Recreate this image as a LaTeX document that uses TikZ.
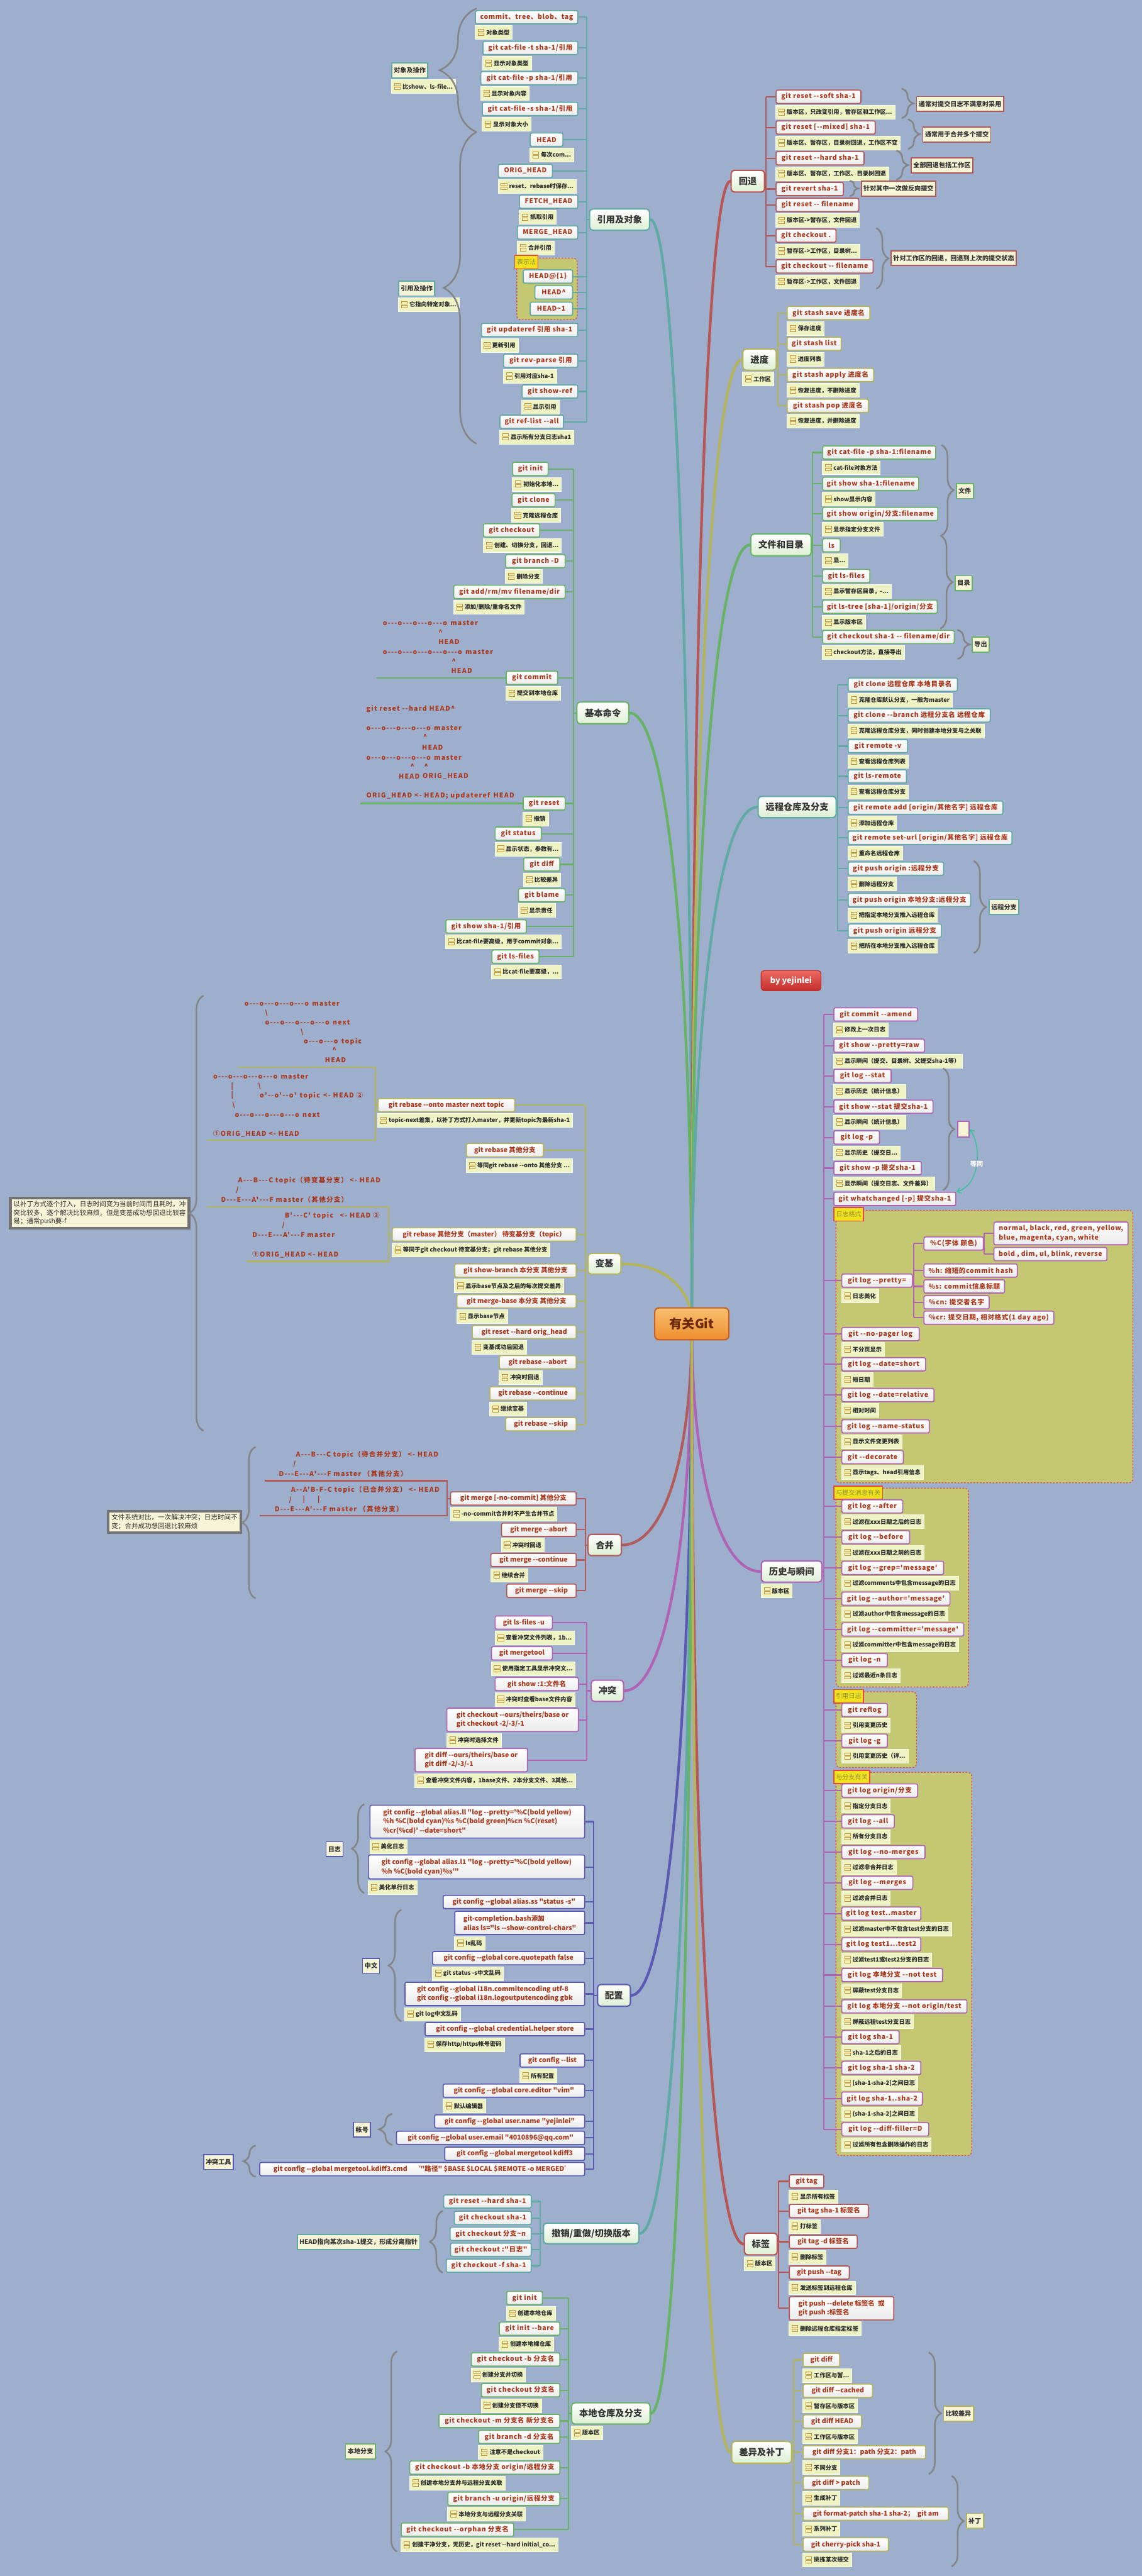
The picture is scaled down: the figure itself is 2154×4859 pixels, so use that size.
\documentclass[tikz,border=0pt]{standalone}
\usepackage{fontspec}
\newfontfamily\gitfont{Noto Sans CJK SC}[LetterSpace=6]
\newfontfamily\asciifont{Noto Sans CJK SC}[LetterSpace=12]
\newfontfamily\plainfont{Noto Sans CJK SC}
\usetikzlibrary{arrows.meta,calc,decorations.pathreplacing,backgrounds}
\definecolor{canvas}{HTML}{9EAFCD}
\definecolor{cmdink}{HTML}{A9381C}
\definecolor{topicink}{HTML}{333333}
\definecolor{noteink}{HTML}{2B2B2B}
\definecolor{notefill}{HTML}{EEF3C4}
\definecolor{iconline}{HTML}{C8912D}
\definecolor{linkteal}{HTML}{5FAAA5}
\definecolor{linkgreen}{HTML}{66B366}
\definecolor{linkolive}{HTML}{B4B45A}
\definecolor{linkmerge}{HTML}{B35A5A}
\definecolor{linkpurple}{HTML}{B062B4}
\definecolor{linkindigo}{HTML}{5A5AB4}
\definecolor{linkred}{HTML}{B85555}
\definecolor{topicfill}{HTML}{DDEFD3}
\definecolor{sumfill}{HTML}{F6F4D6}
\definecolor{groupfill}{HTML}{C5C872}
\definecolor{groupline}{HTML}{E84545}
\definecolor{labelfill}{HTML}{F2E21C}
\definecolor{labelink}{HTML}{8E8E40}
\definecolor{bracegray}{HTML}{858585}
\definecolor{relteal}{HTML}{3DBFA0}
\definecolor{coretop}{HTML}{F9C070}
\definecolor{corebottom}{HTML}{EE8E2E}
\definecolor{coreline}{HTML}{C8602A}
\definecolor{coreink}{HTML}{6B2A0E}
\definecolor{bytop}{HTML}{EC6A62}
\definecolor{bybottom}{HTML}{C22E2C}
\tikzset{>=Latex,
  cmd/.style={draw=#1,line width=2pt,rounded corners=3pt,top color=white,bottom color=black!8,
    text=cmdink,font=\gitfont\bfseries\fontsize{12.5}{17}\selectfont,anchor=north west,
    minimum height=25,inner xsep=6pt,inner ysep=2pt,align=left},
  cmdn/.style={cmd=#1,font=\plainfont\bfseries\fontsize{12.5}{17}\selectfont},
  note/.style={fill=notefill,draw=white!60!notefill,line width=.6pt,anchor=north west,
    yshift=-2pt,minimum height=26,inner xsep=5pt,inner ysep=2pt,text=noteink,
    font=\plainfont\bfseries\fontsize{11}{13}\selectfont,
    execute at begin node={\hspace*{16pt}},
    path picture={
      \draw[iconline,line width=1.1pt] ([xshift=6pt,yshift=1.2pt]path picture bounding box.west)
        rectangle ([xshift=17pt,yshift=6pt]path picture bounding box.west);
      \draw[iconline,line width=1.1pt] ([xshift=6pt,yshift=-1.2pt]path picture bounding box.west)
        rectangle ([xshift=17pt,yshift=-6pt]path picture bounding box.west);}},
  topic/.style={draw=#1,line width=2.5pt,rounded corners=6pt,top color=white,bottom color=topicfill,
    text=topicink,font=\plainfont\bfseries\fontsize{17}{20}\selectfont,anchor=north west,inner sep=2pt},
  sumbox/.style={draw=#1,line width=2pt,fill=sumfill,text=topicink,
    font=\plainfont\bfseries\fontsize{12}{14}\selectfont,anchor=north west,minimum height=28,inner sep=4pt},
  annot/.style={draw=black!55,line width=5pt,fill=sumfill,text=noteink,
    font=\plainfont\fontsize{12.5}{16}\selectfont,align=left,anchor=north west,inner sep=6pt},
  ascii/.style={text=cmdink,font=\asciifont\bfseries\fontsize{12.5}{14}\selectfont,anchor=west,inner sep=0pt},
  link/.style={draw=#1,line width=2.5pt},
  maincurve/.style={draw=#1,line width=5pt,line cap=round},
  sumbrace/.style={draw=bracegray,line width=3pt,decorate,decoration={brace,amplitude=#1}},
  groupbox/.style={fill=groupfill,draw=groupline,dashed,line width=1.6pt,rounded corners=8pt},
  grouplabel/.style={fill=labelfill,draw=groupline,line width=2pt,text=labelink,
    font=\plainfont\fontsize{12}{14}\selectfont,anchor=north west,minimum height=25,inner xsep=4pt},
  core/.style={draw=coreline,line width=2.5pt,rounded corners=8pt,top color=coretop,bottom color=corebottom,
    text=coreink,font=\plainfont\bfseries\fontsize{24}{28}\selectfont,minimum width=140,minimum height=60},
  byline/.style={draw=bybottom,line width=1.5pt,rounded corners=6pt,top color=bytop,bottom color=bybottom,
    text=white,font=\plainfont\bfseries\fontsize{15}{18}\selectfont,anchor=north west,
    minimum width=113,minimum height=38},
  rel/.style={draw=relteal,line width=1.8pt,<->,>={Straight Barb[length=7pt,width=11pt]}},
  rellabel/.style={fill=canvas,text=white,font=\plainfont\bfseries\fontsize{12}{14}\selectfont,inner sep=1pt}}

\begin{document}
\begin{tikzpicture}[x=1pt,y=-1pt]
\useasboundingbox (0,0) rectangle (2154,4859);
\begin{pgfonlayer}{background}
\fill[canvas] (0,0) rectangle (2154,4859);
\path[groupbox] (975,487) rectangle (1089,603);
\path[groupbox] (1577,2283) rectangle (2137,2797);
\path[groupbox] (1577,2807) rectangle (1827,3182);
\path[groupbox] (1577,3191) rectangle (1729,3334);
\path[groupbox] (1577,3343) rectangle (1833,4066);
\end{pgfonlayer}

\node[core] (git) at (1305,2497) {有关Git};
\node[byline] (byauthor) at (1435,1830) {by yejinlei};

% ---- 引用及对象
\node[topic=linkteal,minimum width=113,minimum height=40] (refmain) at (1111,393) {引用及对象};
\node[cmd=linkteal,minimum width=193] (ref1) at (896,19) {commit、tree、blob、tag};
\node[note] (ref1n) at (ref1.south west) {对象类型};
\node[cmd=linkteal,minimum width=179] (ref2) at (910,77) {git cat-file -t sha-1/引用};
\node[note] (ref2n) at (ref2.south west) {显示对象类型};
\node[cmd=linkteal,minimum width=183] (ref3) at (906,134) {git cat-file -p sha-1/引用};
\node[note] (ref3n) at (ref3.south west) {显示对象内容};
\node[cmd=linkteal,minimum width=180] (ref4) at (909,192) {git cat-file -s sha-1/引用};
\node[note] (ref4n) at (ref4.south west) {显示对象大小};
\node[cmd=linkteal,minimum width=62] (ref5) at (999,250) {HEAD};
\node[note] (ref5n) at (ref5.south west) {每次com...};
\node[cmd=linkteal,minimum width=102] (ref6) at (939,309) {ORIG\_HEAD};
\node[note] (ref6n) at (ref6.south west) {reset、rebase时保存...};
\node[cmd=linkteal,minimum width=110] (ref7) at (979,367) {FETCH\_HEAD};
\node[note] (ref7n) at (ref7.south west) {抓取引用};
\node[cmd=linkteal,minimum width=114] (ref8) at (975,425) {MERGE\_HEAD};
\node[note] (ref8n) at (ref8.south west) {合并引用};
\node[grouplabel] (refgrp) at (970,481) {表示法};
\node[cmd=linkteal,minimum width=93] (ref9) at (986,508) {HEAD@\{1\}};
\node[cmd=linkteal,minimum width=71] (ref10) at (1008,538) {HEAD\textasciicircum};
\node[cmd=linkteal,minimum width=80] (ref11) at (999,569) {HEAD\textasciitilde1};
\node[cmd=linkteal,minimum width=182] (ref12) at (907,609) {git updateref 引用 sha-1};
\node[note] (ref12n) at (ref12.south west) {更新引用};
\node[cmd=linkteal,minimum width=140] (ref13) at (949,667) {git rev-parse 引用};
\node[note] (ref13n) at (ref13.south west) {引用对应sha-1};
\node[cmd=linkteal,minimum width=105] (ref14) at (984,725) {git show-ref};
\node[note] (ref14n) at (ref14.south west) {显示引用};
\node[cmd=linkteal,minimum width=120] (ref15) at (942,782) {git ref-list --all};
\node[note] (ref15n) at (ref15.south west) {显示所有分支日志sha1};
\node[sumbox=linkteal] (objops) at (738,118) {对象及操作};
\node[note] (objopsn) at (objops.south west) {比show、ls-file...};
\node[sumbox=linkteal] (refops) at (751,529) {引用及操作};
\node[note] (refopsn) at (refops.south west) {它指向特定对象...};
\draw[sumbrace=70] (899,249) -- (899,16);
\draw[sumbrace=62] (899,837) -- (899,249);

% ---- 基本命令
\node[topic=linkgreen,minimum width=98,minimum height=41] (basicmain) at (1087,1323) {基本命令};
\node[cmd=linkgreen,minimum width=67] (bc1) at (966,871) {git init};
\node[note] (bc1n) at (bc1.south west) {初始化本地...};
\node[cmd=linkgreen,minimum width=81] (bc2) at (965,930) {git clone};
\node[note] (bc2n) at (bc2.south west) {克隆远程仓库};
\node[cmd=linkgreen,minimum width=106] (bc3) at (911,987) {git checkout};
\node[note] (bc3n) at (bc3.south west) {创建、切换分支，回退...};
\node[cmd=linkgreen,minimum width=112] (bc4) at (953,1045) {git branch -D};
\node[note] (bc4n) at (bc4.south west) {删除分支};
\node[cmd=linkgreen,minimum width=210] (bc5) at (855,1103) {git add/rm/mv filename/dir};
\node[note] (bc5n) at (bc5.south west) {添加/删除/重命名文件};
\node[cmd=linkgreen,minimum width=97] (bc6) at (954,1265) {git commit};
\node[note] (bc6n) at (bc6.south west) {提交到本地仓库};
\node[cmd=linkgreen,minimum width=79] (bc7) at (986,1502) {git reset};
\node[note] (bc7n) at (bc7.south west) {撤销};
\node[cmd=linkgreen,minimum width=87] (bc8) at (933,1559) {git status};
\node[note] (bc8n) at (bc8.south west) {显示状态，参数有...};
\node[cmd=linkgreen,minimum width=68] (bc9) at (987,1617) {git diff};
\node[note] (bc9n) at (bc9.south west) {比较差异};
\node[cmd=linkgreen,minimum width=88] (bc10) at (977,1675) {git blame};
\node[note] (bc10n) at (bc10.south west) {显示责任};
\node[cmd=linkgreen,minimum width=152] (bc11) at (840,1734) {git show sha-1/引用};
\node[note] (bc11n) at (bc11.south west) {比cat-file要高级，用于commit对象...};
\node[cmd=linkgreen,minimum width=89] (bc12) at (927,1791) {git ls-files};
\node[note] (bc12n) at (bc12.south west) {比cat-file要高级，...};
\node[ascii] (cm1) at (722,1175) {o---o---o---o---o\enspace master};
\node[ascii] (cm2) at (827,1193) {\textasciicircum};
\node[ascii] (cm3) at (827,1211) {HEAD};
\node[ascii] (cm4) at (722,1230) {o---o---o---o---o---o\enspace master};
\node[ascii] (cm5) at (852,1247) {\textasciicircum};
\node[ascii] (cm6) at (851,1265) {HEAD};
\node[ascii] (rs1) at (691,1337) {git reset --hard HEAD\textasciicircum};
\node[ascii] (rs2) at (691,1374) {o---o---o---o---o\enspace master};
\node[ascii] (rs3) at (798,1390) {\textasciicircum};
\node[ascii] (rs4) at (796,1410) {HEAD};
\node[ascii] (rs5) at (691,1429) {o---o---o---o---o\enspace master};
\node[ascii] (rs6) at (774,1445) {\textasciicircum};
\node[ascii] (rs7) at (800,1445) {\textasciicircum};
\node[ascii] (rs8) at (752,1464) {HEAD};
\node[ascii] (rs9) at (797,1464) {ORIG\_HEAD};
\node[ascii] (rs10) at (691,1501) {ORIG\_HEAD <- HEAD; updateref\enspace HEAD};

% ---- 变基
\node[topic=linkolive,minimum width=62,minimum height=39] (rebmain) at (1108,2363) {变基};
\node[cmdn=linkolive,minimum width=258] (rb1) at (712,2071) {git rebase --onto master next topic};
\node[note] (rb1n) at (rb1.south west) {topic-next差集，以补丁方式打入master，并更新topic为最新sha-1};
\node[cmdn=linkolive,minimum width=145] (rb2) at (879,2156) {git rebase 其他分支};
\node[note] (rb2n) at (rb2.south west) {等同git rebase --onto 其他分支 ...};
\node[cmdn=linkolive,minimum width=347] (rb3) at (739,2315) {git rebase 其他分支（master） 待变基分支（topic）};
\node[note] (rb3n) at (rb3.south west) {等同于git checkout 待变基分支；git rebase 其他分支};
\node[cmdn=linkolive,minimum width=229] (rb4) at (857,2383) {git show-branch 本分支 其他分支};
\node[note] (rb4n) at (rb4.south west) {显示base节点及之后的每次提交差异};
\node[cmdn=linkolive,minimum width=225] (rb5) at (861,2441) {git merge-base 本分支 其他分支};
\node[note] (rb5n) at (rb5.south west) {显示base节点};
\node[cmdn=linkolive,minimum width=196] (rb6) at (890,2499) {git reset --hard orig\_head};
\node[note] (rb6n) at (rb6.south west) {变基成功后回退};
\node[cmdn=linkolive,minimum width=145] (rb7) at (941,2556) {git rebase --abort};
\node[note] (rb7n) at (rb7.south west) {冲突时回退};
\node[cmdn=linkolive,minimum width=163] (rb8) at (923,2615) {git rebase --continue};
\node[note] (rb8n) at (rb8.south west) {继续变基};
\node[cmdn=linkolive,minimum width=133] (rb9) at (953,2673) {git rebase --skip};
\node[ascii] (ra1) at (461,1893) {o---o---o---o---o\enspace master};
\node[ascii] (ra2) at (500,1911) {\textbackslash};
\node[ascii] (ra3) at (500,1929) {o---o---o---o---o\enspace next};
\node[ascii] (ra4) at (567,1947) {\textbackslash};
\node[ascii] (ra5) at (573,1965) {o---o---o\enspace topic};
\node[ascii] (ra6) at (627,1981) {\textasciicircum};
\node[ascii] (ra7) at (613,2000) {HEAD};
\node[ascii] (rx1) at (402,2031) {o---o---o---o---o\enspace master};
\node[ascii] (rx2) at (436,2049) {|};
\node[ascii] (rx3) at (487,2049) {\textbackslash};
\node[ascii] (rx4) at (436,2066) {|};
\node[ascii] (rx5) at (490,2066) {o'--o'--o'\enspace topic\enspace <- HEAD ②};
\node[ascii] (rx6) at (438,2085) {\textbackslash};
\node[ascii] (rx7) at (443,2103) {o---o---o---o---o\enspace next};
\node[ascii] (rx8) at (402,2139) {①ORIG\_HEAD <- HEAD};
\node[ascii] (rc1) at (449,2227) {A---B---C topic（待变基分支） <- HEAD};
\node[ascii] (rc2) at (445,2245) {/};
\node[ascii] (rc3) at (417,2263) {D---E---A'---F master（其他分支）};
\node[ascii] (rd1) at (537,2293) {B'---C' topic\enspace\enspace <- HEAD ②};
\node[ascii] (rd2) at (532,2311) {/};
\node[ascii] (rd3) at (476,2329) {D---E---A'---F master};
\node[ascii] (rd4) at (476,2366) {①ORIG\_HEAD <- HEAD};
\node[annot] (rebnote) at (17,2257) {以补丁方式逐个打入，日志时间变为当前时间而且耗时，冲\\突比较多，逐个解决比较麻烦，但是变基成功想回退比较容\\易；通常push要-f};
\draw[sumbrace=27] (384,2699) -- (384,1878);

% ---- 合并
\node[topic=linkmerge,minimum width=63,minimum height=40] (mgmain) at (1108,2893) {合并};
\node[cmdn=linkmerge,minimum width=237] (mg1) at (849,2813) {git merge [-no-commit] 其他分支};
\node[note] (mg1n) at (mg1.south west) {-no-commit合并时不产生合并节点};
\node[cmdn=linkmerge,minimum width=141] (mg2) at (945,2872) {git merge --abort};
\node[note] (mg2n) at (mg2.south west) {冲突时回退};
\node[cmdn=linkmerge,minimum width=161] (mg3) at (925,2929) {git merge --continue};
\node[note] (mg3n) at (mg3.south west) {继续合并};
\node[cmdn=linkmerge,minimum width=131] (mg4) at (955,2987) {git merge --skip};
\node[ascii] (me1) at (558,2744) {A---B---C topic（待合并分支） <- HEAD};
\node[ascii] (me2) at (553,2762) {/};
\node[ascii] (me3) at (526,2780) {D---E---A'---F master （其他分支）};
\node[ascii] (mf1) at (549,2810) {A--A'B-F-C topic（已合并分支） <- HEAD};
\node[ascii] (mf2) at (545,2829) {/};
\node[ascii] (mf3) at (571,2829) {|};
\node[ascii] (mf4) at (599,2829) {|};
\node[ascii] (mf5) at (518,2846) {D---E---A'---F master （其他分支）};
\node[annot] (mgnote) at (202,2848) {文件系统对比，一次解决冲突；日志时间不\\变；合并成功想回退比较麻烦};
\draw[sumbrace=25] (482,3015) -- (482,2729);

% ---- 冲突
\node[topic=linkpurple,minimum width=61,minimum height=40] (cfmain) at (1114,3168) {冲突};
\node[cmdn=linkpurple,minimum width=108] (cf1) at (933,3047) {git ls-files -u};
\node[note] (cf1n) at (cf1.south west) {查看冲突文件列表，1b...};
\node[cmdn=linkpurple,minimum width=115] (cf2) at (926,3105) {git mergetool};
\node[note] (cf2n) at (cf2.south west) {使用指定工具显示冲突文...};
\node[cmdn=linkpurple,minimum width=157] (cf3) at (933,3163) {git show :1:文件名};
\node[note] (cf3n) at (cf3.south west) {冲突时查看base文件内容};
\node[cmdn=linkpurple,minimum width=248,minimum height=44] (cf4) at (842,3221) {git checkout --ours/theirs/base or\\git checkout -2/-3/-1};
\node[note] (cf4n) at (cf4.south west) {冲突时选择文件};
\node[cmdn=linkpurple,minimum width=212,minimum height=44] (cf5) at (782,3297) {git diff --ours/theirs/base or\\git diff -2/-3/-1};
\node[note] (cf5n) at (cf5.south west) {查看冲突文件内容，1base文件、2本分支文件、3其他...};

% ---- 配置
\node[topic=linkindigo,minimum width=62,minimum height=41] (cgmain) at (1126,3742) {配置};
\node[cmdn=linkindigo,minimum width=405,minimum height=62] (cg1) at (697,3404) {git config --global alias.ll "log --pretty='\%C(bold yellow)\\\%h \%C(bold cyan)\%s \%C(bold green)\%cn \%C(reset)\\\%cr(\%cd)' --date=short"};
\node[note] (cg1n) at (cg1.south west) {美化日志};
\node[cmdn=linkindigo,minimum width=408,minimum height=45] (cg2) at (694,3498) {git config --global alias.l1 "log --pretty='\%C(bold yellow)\\\%h \%C(bold cyan)\%s'"};
\node[note] (cg2n) at (cg2.south west) {美化单行日志};
\node[cmdn=linkindigo,minimum width=267] (cg3) at (835,3574) {git config --global alias.ss "status -s"};
\node[cmdn=linkindigo,minimum width=245,minimum height=44] (cg4) at (857,3604) {git-completion.bash添加\\alias ls="ls --show-control-chars"};
\node[note] (cg4n) at (cg4.south west) {ls乱码};
\node[cmdn=linkindigo,minimum width=287] (cg5) at (815,3680) {git config --global core.quotepath false};
\node[note] (cg5n) at (cg5.south west) {git status -s中文乱码};
\node[cmdn=linkindigo,minimum width=339,minimum height=44] (cg6) at (763,3738) {git config --global i18n.commitencoding utf-8\\git config --global i18n.logoutputencoding gbk};
\node[note] (cg6n) at (cg6.south west) {git log中文乱码};
\node[cmdn=linkindigo,minimum width=301] (cg7) at (801,3814) {git config --global credential.helper store};
\node[note] (cg7n) at (cg7.south west) {保存http/https帐号密码};
\node[cmdn=linkindigo,minimum width=122] (cg8) at (980,3873) {git config --list};
\node[note] (cg8n) at (cg8.south west) {所有配置};
\node[cmdn=linkindigo,minimum width=267] (cg9) at (835,3930) {git config --global core.editor "vim"};
\node[note] (cg9n) at (cg9.south west) {默认编辑器};
\node[cmdn=linkindigo,minimum width=283] (cg10) at (819,3988) {git config --global user.name "yejinlei"};
\node[cmdn=linkindigo,minimum width=355] (cg11) at (747,4019) {git config --global user.email "4010896@qq.com"};
\node[cmdn=linkindigo,minimum width=264] (cg12) at (838,4049) {git config --global mergetool kdiff3};
\node[cmdn=linkindigo,minimum width=613] (cg13) at (489,4078) {git config --global mergetool.kdiff3.cmd\enspace\enspace ‘"路径" \$BASE \$LOCAL \$REMOTE -o MERGED’};
\node[sumbox=linkindigo] (cglog) at (614,3473) {日志};
\node[sumbox=linkindigo] (cgzh) at (683,3693) {中文};
\node[sumbox=linkindigo] (cgacct) at (666,4002) {帐号};
\node[sumbox=linkindigo] (cgtool) at (383,4063) {冲突工具};
\draw[sumbrace=23] (687,3571) -- (687,3403);
\draw[sumbrace=24] (757,3813) -- (757,3602);
\draw[sumbrace=25] (740,4046) -- (740,3987);
\draw[sumbrace=23] (482,4106) -- (482,4047);

% ---- 撤销/重做/切换版本
\node[topic=linkteal,minimum width=180,minimum height=39] (udmain) at (1024,4192) {撤销/重做/切换版本};
\node[cmd=linkteal,minimum width=165] (ud1) at (836,4139) {git reset --hard sha-1};
\node[cmd=linkteal,minimum width=145] (ud2) at (856,4170) {git checkout sha-1};
\node[cmd=linkteal,minimum width=153] (ud3) at (848,4200) {git checkout 分支\textasciitilde n};
\node[cmd=linkteal,minimum width=152] (ud4) at (849,4230) {git checkout :"日志"};
\node[cmd=linkteal,minimum width=160] (ud5) at (841,4260) {git checkout -f sha-1};
\node[sumbox=linkteal] (udsum) at (560,4214) {HEAD指向某次sha-1提交，形成分离指针};
\draw[sumbrace=24] (835,4287) -- (835,4170);

% ---- 本地仓库及分支
\node[topic=linkgreen,minimum width=148,minimum height=40] (lrmain) at (1077,4531) {本地仓库及分支};
\node[note] (lrmainn) at (lrmain.south west) {版本区};
\node[cmd=linkgreen,minimum width=67] (lr1) at (955,4321) {git init};
\node[note] (lr1n) at (lr1.south west) {创建本地仓库};
\node[cmd=linkgreen,minimum width=114] (lr2) at (941,4379) {git init --bare};
\node[note] (lr2n) at (lr2.south west) {创建本地裸仓库};
\node[cmd=linkgreen,minimum width=167] (lr3) at (888,4437) {git checkout -b 分支名};
\node[note] (lr3n) at (lr3.south west) {创建分支并切换};
\node[cmd=linkgreen,minimum width=148] (lr4) at (907,4495) {git checkout 分支名};
\node[note] (lr4n) at (lr4.south west) {创建分支但不切换};
\node[cmd=linkgreen,minimum width=228] (lr5) at (827,4553) {git checkout -m 分支名 新分支名};
\node[cmd=linkgreen,minimum width=153] (lr6) at (902,4583) {git branch -d 分支名};
\node[note] (lr6n) at (lr6.south west) {注意不是checkout};
\node[cmd=linkgreen,minimum width=283] (lr7) at (772,4641) {git checkout -b 本地分支 origin/远程分支};
\node[note] (lr7n) at (lr7.south west) {创建本地分支并与远程分支关联};
\node[cmd=linkgreen,minimum width=211] (lr8) at (844,4700) {git branch -u origin/远程分支};
\node[note] (lr8n) at (lr8.south west) {本地分支与远程分支关联};
\node[cmd=linkgreen,minimum width=212] (lr9) at (756,4758) {git checkout --orphan 分支名};
\node[note] (lr9n) at (lr9.south west) {创建干净分支，无历史，git reset --hard initial\_co...};
\node[sumbox=linkgreen] (lrsum) at (651,4609) {本地分支};
\draw[sumbrace=22] (749,4813) -- (749,4435);

% ---- 回退
\node[topic=linkred,minimum width=63,minimum height=41] (hbmain) at (1378,320) {回退};
\node[cmd=linkred,minimum width=160] (hb1) at (1463,169) {git reset --soft sha-1};
\node[note] (hb1n) at (hb1.south west) {版本区，只改变引用，暂存区和工作区...};
\node[cmd=linkred,minimum width=187] (hb2) at (1463,227) {git reset [--mixed] sha-1};
\node[note] (hb2n) at (hb2.south west) {版本区、暂存区，目录树回退，工作区不变};
\node[cmd=linkred,minimum width=166] (hb3) at (1463,285) {git reset --hard sha-1};
\node[note] (hb3n) at (hb3.south west) {版本区、暂存区，工作区、目录树回退};
\node[cmd=linkred,minimum width=127] (hb4) at (1463,343) {git revert sha-1};
\node[cmd=linkred,minimum width=156] (hb5) at (1463,373) {git reset -- filename};
\node[note] (hb5n) at (hb5.south west) {版本区->暂存区，文件回退};
\node[cmd=linkred,minimum width=113] (hb6) at (1463,431) {git checkout .};
\node[note] (hb6n) at (hb6.south west) {暂存区->工作区，目录树...};
\node[cmd=linkred,minimum width=183] (hb7) at (1463,489) {git checkout -- filename};
\node[note] (hb7n) at (hb7.south west) {暂存区->工作区，文件回退};
\node[sumbox=linkred] (hbs1) at (1728,181) {通常对提交日志不满意时采用};
\node[sumbox=linkred] (hbs2) at (1740,239) {通常用于合并多个提交};
\node[sumbox=linkred] (hbs3) at (1718,297) {全部回退包括工作区};
\node[sumbox=linkred] (hbs4) at (1624,341) {针对其中一次做反向提交};
\node[sumbox=linkred] (hbs5) at (1680,472) {针对工作区的回退，回退到上次的提交状态};
\draw[sumbrace=22] (1701,167) -- (1701,223);
\draw[sumbrace=22] (1713,225) -- (1713,281);
\draw[sumbrace=22] (1691,284) -- (1691,339);
\draw[sumbrace=16] (1603,341) -- (1603,370);
\draw[sumbrace=23] (1653,430) -- (1653,545);

% ---- 进度
\node[topic=linkolive,minimum width=63,minimum height=40] (pgmain) at (1400,657) {进度};
\node[note] (pgmainn) at (pgmain.south west) {工作区};
\node[cmd=linkolive,minimum width=156] (pg1) at (1484,577) {git stash save 进度名};
\node[note] (pg1n) at (pg1.south west) {保存进度};
\node[cmd=linkolive,minimum width=102] (pg2) at (1484,635) {git stash list};
\node[note] (pg2n) at (pg2.south west) {进度列表};
\node[cmd=linkolive,minimum width=163] (pg3) at (1484,694) {git stash apply 进度名};
\node[note] (pg3n) at (pg3.south west) {恢复进度，不删除进度};
\node[cmd=linkolive,minimum width=153] (pg4) at (1484,752) {git stash pop 进度名};
\node[note] (pg4n) at (pg4.south west) {恢复进度，并删除进度};

% ---- 文件和目录
\node[topic=linkgreen,minimum width=114,minimum height=41] (fdmain) at (1415,1006) {文件和目录};
\node[cmd=linkgreen,minimum width=213] (fd1) at (1551,840) {git cat-file -p sha-1:filename};
\node[note] (fd1n) at (fd1.south west) {cat-file对象方法};
\node[cmd=linkgreen,minimum width=181] (fd2) at (1551,899) {git show sha-1:filename};
\node[note] (fd2n) at (fd2.south west) {show显示内容};
\node[cmd=linkgreen,minimum width=217] (fd3) at (1551,956) {git show origin/分支:filename};
\node[note] (fd3n) at (fd3.south west) {显示指定分支文件};
\node[cmd=linkgreen,minimum width=33] (fd4) at (1551,1015) {ls};
\node[note] (fd4n) at (fd4.south west) {显...};
\node[cmd=linkgreen,minimum width=89] (fd5) at (1551,1073) {git ls-files};
\node[note] (fd5n) at (fd5.south west) {显示暂存区目录，-...};
\node[cmd=linkgreen,minimum width=216] (fd6) at (1551,1131) {git ls-tree [sha-1]/origin/分支};
\node[note] (fd6n) at (fd6.south west) {显示版本区};
\node[cmd=linkgreen,minimum width=248] (fd7) at (1551,1188) {git checkout sha-1 -- filename/dir};
\node[note] (fd7n) at (fd7.south west) {checkout方法，直接导出};
\node[sumbox=linkgreen] (fdfile) at (1803,911) {文件};
\node[sumbox=linkgreen] (fddir) at (1801,1085) {目录};
\node[sumbox=linkgreen] (fdout) at (1833,1201) {导出};
\draw[sumbrace=23] (1776,839) -- (1776,1010);
\draw[sumbrace=23] (1774,1010) -- (1774,1186);
\draw[sumbrace=23] (1806,1188) -- (1806,1243);

% ---- 远程仓库及分支
\node[topic=linkteal,minimum width=147,minimum height=40] (rmmain) at (1429,1501) {远程仓库及分支};
\node[cmd=linkteal,minimum width=206] (rm1) at (1599,1278) {git clone 远程仓库 本地目录名};
\node[note] (rm1n) at (rm1.south west) {克隆仓库默认分支，一般为master};
\node[cmd=linkteal,minimum width=268] (rm2) at (1599,1336) {git clone --branch 远程分支名 远程仓库};
\node[note] (rm2n) at (rm2.south west) {克隆远程仓库分支，同时创建本地分支与之关联};
\node[cmd=linkteal,minimum width=112] (rm3) at (1599,1394) {git remote -v};
\node[note] (rm3n) at (rm3.south west) {查看远程仓库列表};
\node[cmd=linkteal,minimum width=110] (rm4) at (1599,1451) {git ls-remote};
\node[note] (rm4n) at (rm4.south west) {查看远程仓库分支};
\node[cmd=linkteal,minimum width=292] (rm5) at (1599,1510) {git remote add [origin/其他名字] 远程仓库};
\node[note] (rm5n) at (rm5.south west) {添加远程仓库};
\node[cmd=linkteal,minimum width=309] (rm6) at (1599,1567) {git remote set-url [origin/其他名字] 远程仓库};
\node[note] (rm6n) at (rm6.south west) {重命名远程仓库};
\node[cmd=linkteal,minimum width=180] (rm7) at (1599,1625) {git push origin :远程分支};
\node[note] (rm7n) at (rm7.south west) {删除远程分支};
\node[cmd=linkteal,minimum width=231] (rm8) at (1599,1684) {git push origin 本地分支:远程分支};
\node[note] (rm8n) at (rm8.south west) {把指定本地分支推入远程仓库};
\node[cmd=linkteal,minimum width=176] (rm9) at (1599,1742) {git push origin 远程分支};
\node[note] (rm9n) at (rm9.south west) {把所在本地分支推入远程仓库};
\node[sumbox=linkteal] (rmsum) at (1865,1696) {远程分支};
\draw[sumbrace=23] (1837,1624) -- (1837,1798);

% ---- 历史与瞬间
\node[topic=linkpurple,minimum width=114,minimum height=40] (hsmain) at (1435,2943) {历史与瞬间};
\node[note] (hsmainn) at (hsmain.south west) {版本区};
\node[cmd=linkpurple,minimum width=158] (hs1) at (1572,1900) {git commit --amend};
\node[note] (hs1n) at (hs1.south west) {修改上一次日志};
\node[cmd=linkpurple,minimum width=171] (hs2) at (1572,1959) {git show --pretty=raw};
\node[note] (hs2n) at (hs2.south west) {显示瞬间（提交、目录树、父提交sha-1等）};
\node[cmd=linkpurple,minimum width=108] (hs3) at (1572,2016) {git log --stat};
\node[note] (hs3n) at (hs3.south west) {显示历史（统计信息）};
\node[cmd=linkpurple,minimum width=187] (hs4) at (1572,2074) {git show --stat 提交sha-1};
\node[note] (hs4n) at (hs4.south west) {显示瞬间（统计信息）};
\node[cmd=linkpurple,minimum width=86] (hs5) at (1572,2132) {git log -p};
\node[note] (hs5n) at (hs5.south west) {显示历史（提交日...};
\node[cmd=linkpurple,minimum width=165] (hs6) at (1572,2190) {git show -p 提交sha-1};
\node[note] (hs6n) at (hs6.south west) {显示瞬间（提交日志、文件差异）};
\node[cmd=linkpurple,minimum width=230] (hs7) at (1572,2248) {git whatchanged [-p] 提交sha-1};
\node[sumbox=linkpurple,minimum width=21,minimum height=30] (hssum) at (1806,2114) {};
\draw[sumbrace=21] (1779,2015) -- (1779,2245);
\node[grouplabel] (fmtgrp) at (1572,2277) {日志格式};
\node[cmd=linkpurple,minimum width=133] (hs8) at (1587,2402) {git log --pretty=};
\node[note] (hs8n) at (hs8.south west) {日志美化};
\node[cmd=linkpurple,minimum width=112] (pf1) at (1742,2332) {\%C(字体 颜色)};
\node[cmd=linkpurple,minimum width=253,minimum height=43] (cc1) at (1874,2304) {normal, black, red, green, yellow,\\blue, magenta, cyan, white};
\node[cmd=linkpurple,minimum width=213] (cc2) at (1874,2352) {bold , dim, ul, blink, reverse};
\node[cmd=linkpurple,minimum width=176] (pf2) at (1742,2383) {\%h: 缩短的commit hash};
\node[cmd=linkpurple,minimum width=152] (pf3) at (1742,2413) {\%s: commit信息标题};
\node[cmd=linkpurple,minimum width=123] (pf4) at (1742,2443) {\%cn: 提交者名字};
\node[cmd=linkpurple,minimum width=245] (pf5) at (1742,2472) {\%cr: 提交日期, 相对格式(1 day ago)};
\node[cmd=linkpurple,minimum width=146] (hs9) at (1587,2503) {git --no-pager log};
\node[note] (hs9n) at (hs9.south west) {不分页显示};
\node[cmd=linkpurple,minimum width=158] (hs10) at (1587,2560) {git log --date=short};
\node[note] (hs10n) at (hs10.south west) {短日期};
\node[cmd=linkpurple,minimum width=174] (hs11) at (1587,2618) {git log --date=relative};
\node[note] (hs11n) at (hs11.south west) {相对时间};
\node[cmd=linkpurple,minimum width=165] (hs12) at (1587,2677) {git log --name-status};
\node[note] (hs12n) at (hs12.south west) {显示文件变更列表};
\node[cmd=linkpurple,minimum width=116] (hs13) at (1587,2735) {git --decorate};
\node[note] (hs13n) at (hs13.south west) {显示tags、head引用信息};
\node[grouplabel] (msggrp) at (1572,2802) {与提交消息有关};
\node[cmd=linkpurple,minimum width=115] (hs14) at (1587,2828) {git log --after};
\node[note] (hs14n) at (hs14.south west) {过滤在xxx日期之后的日志};
\node[cmd=linkpurple,minimum width=128] (hs15) at (1587,2886) {git log --before};
\node[note] (hs15n) at (hs15.south west) {过滤在xxx日期之前的日志};
\node[cmd=linkpurple,minimum width=192] (hs16) at (1587,2944) {git log --grep='message'};
\node[note] (hs16n) at (hs16.south west) {过滤comments中包含message的日志};
\node[cmd=linkpurple,minimum width=204] (hs17) at (1587,3002) {git log --author='message'};
\node[note] (hs17n) at (hs17.south west) {过滤author中包含message的日志};
\node[cmd=linkpurple,minimum width=230] (hs18) at (1587,3060) {git log --committer='message'};
\node[note] (hs18n) at (hs18.south west) {过滤committer中包含message的日志};
\node[cmd=linkpurple,minimum width=86] (hs19) at (1587,3118) {git log -n};
\node[note] (hs19n) at (hs19.south west) {过滤最近n条日志};
\node[grouplabel] (refloggrp) at (1572,3186) {引用日志};
\node[cmd=linkpurple,minimum width=86] (hs20) at (1587,3212) {git reflog};
\node[note] (hs20n) at (hs20.south west) {引用变更历史};
\node[cmd=linkpurple,minimum width=86] (hs21) at (1587,3270) {git log -g};
\node[note] (hs21n) at (hs21.south west) {引用变更历史（详...};
\node[grouplabel] (brgrp) at (1572,3338) {与分支有关};
\node[cmd=linkpurple,minimum width=143] (hs22) at (1587,3364) {git log origin/分支};
\node[note] (hs22n) at (hs22.south west) {指定分支日志};
\node[cmd=linkpurple,minimum width=99] (hs23) at (1587,3422) {git log --all};
\node[note] (hs23n) at (hs23.south west) {所有分支日志};
\node[cmd=linkpurple,minimum width=157] (hs24) at (1587,3480) {git log --no-merges};
\node[note] (hs24n) at (hs24.south west) {过滤非合并日志};
\node[cmd=linkpurple,minimum width=134] (hs25) at (1587,3538) {git log --merges};
\node[note] (hs25n) at (hs25.south west) {过滤合并日志};
\node[cmd=linkpurple,minimum width=149] (hs26) at (1587,3596) {git log test..master};
\node[note] (hs26n) at (hs26.south west) {过滤master中不包含test分支的日志};
\node[cmd=linkpurple,minimum width=149] (hs27) at (1587,3654) {git log test1...test2};
\node[note] (hs27n) at (hs27.south west) {过滤test1或test2分支的日志};
\node[cmd=linkpurple,minimum width=190] (hs28) at (1587,3712) {git log 本地分支 --not test};
\node[note] (hs28n) at (hs28.south west) {屏蔽test分支日志};
\node[cmd=linkpurple,minimum width=236] (hs29) at (1587,3771) {git log 本地分支 --not origin/test};
\node[note] (hs29n) at (hs29.south west) {屏蔽远程test分支日志};
\node[cmd=linkpurple,minimum width=108] (hs30) at (1587,3829) {git log sha-1};
\node[note] (hs30n) at (hs30.south west) {sha-1之后的日志};
\node[cmd=linkpurple,minimum width=149] (hs31) at (1587,3887) {git log sha-1 sha-2};
\node[note] (hs31n) at (hs31.south west) {[sha-1-sha-2]之间日志};
\node[cmd=linkpurple,minimum width=152] (hs32) at (1587,3945) {git log sha-1..sha-2};
\node[note] (hs32n) at (hs32.south west) {(sha-1-sha-2]之间日志};
\node[cmd=linkpurple,minimum width=164] (hs33) at (1587,4003) {git log --diff-filler=D};
\node[note] (hs33n) at (hs33.south west) {过滤所有包含删除操作的日志};

% ---- 标签
\node[topic=linkred,minimum width=62,minimum height=41] (tgmain) at (1403,4211) {标签};
\node[note] (tgmainn) at (tgmain.south west) {版本区};
\node[cmdn=linkred,minimum width=65] (tg1) at (1488,4101) {git tag};
\node[note] (tg1n) at (tg1.south west) {显示所有标签};
\node[cmdn=linkred,minimum width=149] (tg2) at (1488,4157) {git tag sha-1 标签名};
\node[note] (tg2n) at (tg2.south west) {打标签};
\node[cmdn=linkred,minimum width=128] (tg3) at (1488,4215) {git tag -d 标签名};
\node[note] (tg3n) at (tg3.south west) {删除标签};
\node[cmdn=linkred,minimum width=113] (tg4) at (1488,4273) {git push --tag};
\node[note] (tg4n) at (tg4.south west) {发送标签到远程仓库};
\node[cmdn=linkred,minimum width=197,minimum height=44] (tg5) at (1488,4331) {git push --delete 标签名\enspace 或\\git push :标签名};
\node[note] (tg5n) at (tg5.south west) {删除远程仓库指定标签};

% ---- 差异及补丁
\node[topic=linkolive,minimum width=113,minimum height=41] (dfmain) at (1379,4604) {差异及补丁};
\node[cmdn=linkolive,minimum width=69] (df1) at (1514,4438) {git diff};
\node[note] (df1n) at (df1.south west) {工作区与暂...};
\node[cmdn=linkolive,minimum width=131] (df2) at (1514,4496) {git diff --cached};
\node[note] (df2n) at (df2.south west) {暂存区与版本区};
\node[cmdn=linkolive,minimum width=110] (df3) at (1514,4554) {git diff HEAD};
\node[note] (df3n) at (df3.south west) {工作区与版本区};
\node[cmdn=linkolive,minimum width=231] (df4) at (1514,4612) {git diff 分支1：path 分支2：path};
\node[note] (df4n) at (df4.south west) {不同分支};
\node[cmdn=linkolive,minimum width=124] (df5) at (1514,4670) {git diff > patch};
\node[note] (df5n) at (df5.south west) {生成补丁};
\node[cmdn=linkolive,minimum width=274] (df6) at (1514,4728) {git format-patch sha-1 sha-2；\enspace git am};
\node[note] (df6n) at (df6.south west) {系列补丁};
\node[cmdn=linkolive,minimum width=161] (df7) at (1514,4786) {git cherry-pick sha-1};
\node[note] (df7n) at (df7.south west) {挑拣某次提交};
\node[sumbox=linkolive] (dfcmp) at (1779,4538) {比较差异};
\node[sumbox=linkolive] (dfpatch) at (1822,4740) {补丁};
\draw[sumbrace=23] (1752,4437) -- (1752,4667);
\draw[sumbrace=23] (1795,4670) -- (1795,4841);

% spine x positions
\coordinate (refsp) at (1107,0);  \coordinate (bcsp) at (1082,0);
\coordinate (rbsp) at (1104,0);   \coordinate (mgsp) at (1104,0);
\coordinate (cfsp) at (1107,0);   \coordinate (cgsp) at (1120,0);
\coordinate (udsp) at (1019,0);   \coordinate (lrsp) at (1072,0);
\coordinate (hbsp) at (1445,0);   \coordinate (pgsp) at (1467,0);
\coordinate (fdsp) at (1533,0);   \coordinate (rmsp) at (1580,0);
\coordinate (hssp) at (1554,0);   \coordinate (pfsp) at (1724,0);
\coordinate (ccsp) at (1857,0);   \coordinate (tgsp) at (1469,0);
\coordinate (dfsp) at (1497,0);
\coordinate (cmend) at (711,0);   \coordinate (rsend) at (680,0);
\coordinate (ulA) at (449,2013);  \coordinate (ulAj) at (708,2013);
\coordinate (ulBj) at (708,2151); \coordinate (ulB) at (390,2151);
\coordinate (ulC) at (390,2276);  \coordinate (ulCj) at (733,2276);
\coordinate (ulDj) at (733,2379); \coordinate (ulD) at (465,2379);
\coordinate (ulE) at (500,2793);  \coordinate (ulEj) at (843,2793);
\coordinate (ulFj) at (843,2859); \coordinate (ulF) at (490,2859);

\begin{pgfonlayer}{background}
\foreach \m/\a/\c in {refmain/east/linkteal,basicmain/east/linkgreen,rebmain/east/linkolive,
  mgmain/east/linkmerge,cfmain/east/linkpurple,cgmain/east/linkindigo,udmain/east/linkteal,
  lrmain/east/linkgreen,hbmain/west/linkred,pgmain/west/linkolive,fdmain/west/linkgreen,
  rmmain/west/linkteal,hsmain/west/linkpurple,tgmain/west/linkred,dfmain/west/linkolive}
  \draw[maincurve=\c] (git.center) .. controls ($(git.center)!0.6!(git.center|-\m.\a)$)
    and ($(\m.\a)!0.6!(git.center|-\m.\a)$) .. (\m.\a);
% left trees
\foreach \n in {ref1,ref2,ref3,ref4,ref5,ref6,ref7,ref8,ref9,ref10,ref11,ref12,ref13,ref14,ref15}
  \draw[link=linkteal] (\n.east) -- (\n.east -| refsp);
\draw[link=linkteal] (ref1.east -| refsp) -- (ref15.east -| refsp);
\draw[link=linkteal] (refmain.west) -- (refmain.west -| refsp);
\foreach \n in {bc1,bc2,bc3,bc4,bc5,bc6,bc7,bc8,bc9,bc10,bc11,bc12}
  \draw[link=linkgreen] (\n.east) -- (\n.east -| bcsp);
\draw[link=linkgreen] (bc1.east -| bcsp) -- (bc12.east -| bcsp);
\draw[link=linkgreen] (basicmain.west) -- (basicmain.west -| bcsp);
\draw[link=linkgreen] (bc6.west) -- (bc6.west -| cmend);
\draw[link=linkgreen] (bc7.west) -- (bc7.west -| rsend);
\foreach \n in {rb1,rb2,rb3,rb4,rb5,rb6,rb7,rb8,rb9}
  \draw[link=linkolive] (\n.east) -- (\n.east -| rbsp);
\draw[link=linkolive] (rb1.east -| rbsp) -- (rb9.east -| rbsp);
\draw[link=linkolive] (rebmain.west) -- (rebmain.west -| rbsp);
\draw[link=linkolive] (rb1.west) -- (rb1.west -| ulAj);
\draw[link=linkolive] (ulA) -- (ulAj) -- (ulBj) -- (ulB);
\draw[link=linkolive] (rb3.west) -- (rb3.west -| ulCj);
\draw[link=linkolive] (ulC) -- (ulCj) -- (ulDj) -- (ulD);
\foreach \n in {mg1,mg2,mg3,mg4}
  \draw[link=linkmerge] (\n.east) -- (\n.east -| mgsp);
\draw[link=linkmerge] (mg1.east -| mgsp) -- (mg4.east -| mgsp);
\draw[link=linkmerge] (mgmain.west) -- (mgmain.west -| mgsp);
\draw[link=linkmerge] (mg1.west) -- (mg1.west -| ulEj);
\draw[link=linkmerge] (ulE) -- (ulEj) -- (ulFj) -- (ulF);
\foreach \n in {cf1,cf2,cf3,cf4,cf5}
  \draw[link=linkpurple] (\n.east) -- (\n.east -| cfsp);
\draw[link=linkpurple] (cf1.east -| cfsp) -- (cf5.east -| cfsp);
\draw[link=linkpurple] (cfmain.west) -- (cfmain.west -| cfsp);
\foreach \n in {cg1,cg2,cg3,cg4,cg5,cg6,cg7,cg8,cg9,cg10,cg11,cg12,cg13}
  \draw[link=linkindigo] (\n.east) -- (\n.east -| cgsp);
\draw[link=linkindigo] (cg1.east -| cgsp) -- (cg13.east -| cgsp);
\draw[link=linkindigo] (cgmain.west) -- (cgmain.west -| cgsp);
\foreach \n in {ud1,ud2,ud3,ud4,ud5}
  \draw[link=linkteal] (\n.east) -- (\n.east -| udsp);
\draw[link=linkteal] (ud1.east -| udsp) -- (ud5.east -| udsp);
\draw[link=linkteal] (udmain.west) -- (udmain.west -| udsp);
\foreach \n in {lr1,lr2,lr3,lr4,lr5,lr6,lr7,lr8,lr9}
  \draw[link=linkgreen] (\n.east) -- (\n.east -| lrsp);
\draw[link=linkgreen] (lr1.east -| lrsp) -- (lr9.east -| lrsp);
\draw[link=linkgreen] (lrmain.west) -- (lrmain.west -| lrsp);
% right trees
\foreach \n in {hb1,hb2,hb3,hb4,hb5,hb6,hb7}
  \draw[link=linkred] (\n.west) -- (\n.west -| hbsp);
\draw[link=linkred] (hb1.west -| hbsp) -- (hb7.west -| hbsp);
\draw[link=linkred] (hbmain.east) -- (hbmain.east -| hbsp);
\foreach \n in {pg1,pg2,pg3,pg4}
  \draw[link=linkolive] (\n.west) -- (\n.west -| pgsp);
\draw[link=linkolive] (pg1.west -| pgsp) -- (pg4.west -| pgsp);
\draw[link=linkolive] (pgmain.east) -- (pgmain.east -| pgsp);
\foreach \n in {fd1,fd2,fd3,fd4,fd5,fd6,fd7}
  \draw[link=linkgreen] (\n.west) -- (\n.west -| fdsp);
\draw[link=linkgreen] (fd1.west -| fdsp) -- (fd7.west -| fdsp);
\draw[link=linkgreen] (fdmain.east) -- (fdmain.east -| fdsp);
\foreach \n in {rm1,rm2,rm3,rm4,rm5,rm6,rm7,rm8,rm9}
  \draw[link=linkteal] (\n.west) -- (\n.west -| rmsp);
\draw[link=linkteal] (rm1.west -| rmsp) -- (rm9.west -| rmsp);
\draw[link=linkteal] (rmmain.east) -- (rmmain.east -| rmsp);
\foreach \n in {hs1,hs2,hs3,hs4,hs5,hs6,hs7,hs8,hs9,hs10,hs11,hs12,hs13,hs14,hs15,hs16,hs17,
  hs18,hs19,hs20,hs21,hs22,hs23,hs24,hs25,hs26,hs27,hs28,hs29,hs30,hs31,hs32,hs33}
  \draw[link=linkpurple] (\n.west) -- (\n.west -| hssp);
\draw[link=linkpurple] (hs1.west -| hssp) -- (hs33.west -| hssp);
\draw[link=linkpurple] (hsmain.east) -- (hsmain.east -| hssp);
\foreach \n in {pf1,pf2,pf3,pf4,pf5}
  \draw[link=linkpurple] (\n.west) -- (\n.west -| pfsp);
\draw[link=linkpurple] (pf1.west -| pfsp) -- (pf5.west -| pfsp);
\draw[link=linkpurple] (hs8.east) -- (hs8.east -| pfsp);
\foreach \n in {cc1,cc2}
  \draw[link=linkpurple] (\n.west) -- (\n.west -| ccsp);
\draw[link=linkpurple] (cc1.west -| ccsp) -- (cc2.west -| ccsp);
\draw[link=linkpurple] (pf1.east) -- (pf1.east -| ccsp);
\foreach \n in {tg1,tg2,tg3,tg4,tg5}
  \draw[link=linkred] (\n.west) -- (\n.west -| tgsp);
\draw[link=linkred] (tg1.west -| tgsp) -- (tg5.west -| tgsp);
\draw[link=linkred] (tgmain.east) -- (tgmain.east -| tgsp);
\foreach \n in {df1,df2,df3,df4,df5,df6,df7}
  \draw[link=linkolive] (\n.west) -- (\n.west -| dfsp);
\draw[link=linkolive] (df1.west -| dfsp) -- (df7.west -| dfsp);
\draw[link=linkolive] (dfmain.east) -- (dfmain.east -| dfsp);
\end{pgfonlayer}

\draw[rel] (hssum.east) .. controls (1852,2160) and (1850,2235) .. node[rellabel,pos=.5] (eqlbl) {等同} (hs7.north east);
\end{tikzpicture}
\end{document}
